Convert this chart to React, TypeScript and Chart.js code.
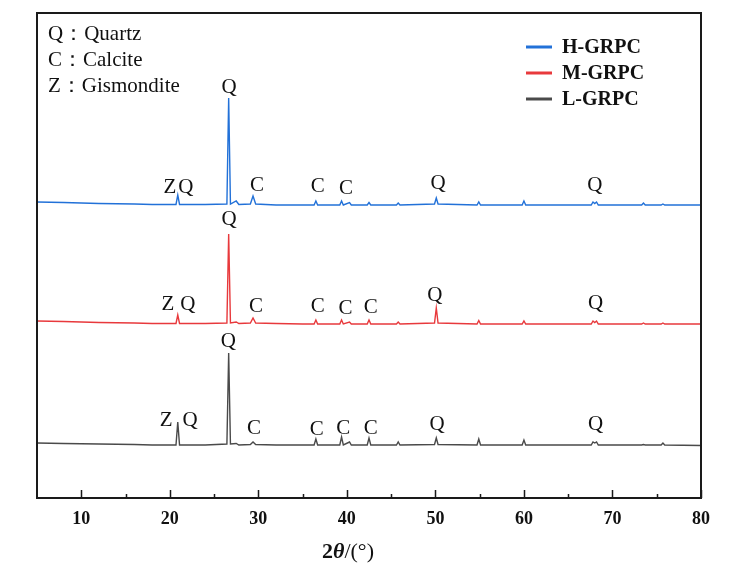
import React, { useEffect, useRef } from "react";
import { Chart, registerables } from "chart.js";

Chart.register(...registerables);

const twoTheta = [5, 8, 12, 16, 18, 20.7, 20.9, 21.1, 22, 24, 26.45, 26.65, 26.85, 27.5, 27.8, 29.1, 29.4, 29.7, 32, 35, 36.3, 36.5, 36.7, 38, 39.2, 39.4, 39.6, 40.3, 40.5, 42.3, 42.5, 42.7, 45.6, 45.8, 46.0, 49.9, 50.1, 50.3, 54.7, 54.9, 55.1, 59.8, 60.0, 60.2, 64, 67.6, 67.8, 68.0, 68.2, 68.4, 73.3, 73.5, 73.7, 75.5, 75.7, 75.9, 80];

const hGRPC = [296, 295.5, 294.5, 294, 293.5, 293.5, 303, 293.5, 293.5, 293.5, 294, 400, 294, 297, 293.5, 294, 302, 294, 293, 293, 293, 297, 293, 293, 293, 297, 293, 295.5, 293, 293, 295.5, 293, 293, 295, 293, 294, 300, 294, 293, 296, 293, 293, 297, 293, 293, 293, 296, 294.5, 296, 293, 293, 295, 293, 293, 294, 293, 293];

const mGRPC = [177, 176.5, 175.5, 175, 174.5, 174.5, 183, 174.5, 174.5, 174.5, 175, 264, 175, 176, 174.5, 175, 180, 175, 174.5, 174, 174, 178, 174, 174, 174, 178, 174, 176, 174, 174, 178, 174, 174, 176, 174, 175, 190, 175, 174, 177.5, 174, 174, 177, 174, 174, 174, 177, 175.5, 177, 174, 174, 175, 174, 174, 175, 174, 174];

const lGRPC = [55, 54.5, 54, 53.5, 53, 53, 76, 53, 53, 53, 54, 145, 54, 54.5, 53, 53.5, 56, 53.5, 53, 53, 53, 59, 53, 53, 53, 61, 53, 56, 53, 53, 60, 53, 53, 56, 53, 53.5, 60, 53.5, 53, 59, 53, 53, 58, 53, 53, 53, 56, 55, 56, 53, 53, 53.5, 53, 53, 55, 53, 52.5];

const seriesNames = ["H-GRPC", "M-GRPC", "L-GRPC"];
const seriesColors = ["#2271d8", "#e8393c", "#4a4a4a"];

const xTicks = [10, 20, 30, 40, 50, 60, 70, 80];
const xMinorTicks = [15, 25, 35, 45, 55, 65, 75];

const phaseKey = ["Q：Quartz", "C：Calcite", "Z：Gismondite"];

// peak labels: 2θ position, label height, text
const hLabelsX = [20.0, 21.8, 26.7, 29.85, 36.7, 39.9, 50.3, 68.0];
const hLabelsY = [311, 311, 411, 313, 312, 310, 315, 313];
const hLabelsT = ["Z", "Q", "Q", "C", "C", "C", "Q", "Q"];

const mLabelsX = [19.8, 22.05, 26.7, 29.75, 36.7, 39.85, 42.7, 49.95, 68.1];
const mLabelsY = [194, 194, 279, 192, 192, 190, 191, 203, 195];
const mLabelsT = ["Z", "Q", "Q", "C", "C", "C", "C", "Q", "Q"];

const lLabelsX = [19.6, 22.3, 26.6, 29.5, 36.6, 39.6, 42.7, 50.2, 68.1];
const lLabelsY = [78, 78, 157, 70, 69, 70, 70, 74, 74];
const lLabelsT = ["Z", "Q", "Q", "C", "C", "C", "C", "Q", "Q"];

const SERIF = "'Liberation Serif', 'Times New Roman', serif";

export default function App() {
  const ref = useRef<HTMLCanvasElement | null>(null);

  useEffect(() => {
    if (!ref.current) return;
    const mk = (ys: number[]) => twoTheta.map((x, i) => ({ x, y: ys[i] }));

    const overlay = {
      id: "overlay",
      afterDraw(chart: any) {
        const ctx = chart.ctx as CanvasRenderingContext2D;
        const ca = chart.chartArea;
        const xs = chart.scales.x;
        const ys = chart.scales.y;
        ctx.save();
        // frame
        ctx.strokeStyle = "#1a1a1a";
        ctx.lineWidth = 2;
        ctx.strokeRect(ca.left, ca.top, ca.right - ca.left, ca.bottom - ca.top);
        // inward ticks
        ctx.lineWidth = 1.5;
        ctx.beginPath();
        xTicks.forEach((v) => {
          const px = Math.round(xs.getPixelForValue(v)) + 0.5;
          ctx.moveTo(px, ca.bottom);
          ctx.lineTo(px, ca.bottom - 8);
        });
        xMinorTicks.forEach((v) => {
          const px = Math.round(xs.getPixelForValue(v)) + 0.5;
          ctx.moveTo(px, ca.bottom);
          ctx.lineTo(px, ca.bottom - 4);
        });
        ctx.stroke();

        // peak labels
        ctx.fillStyle = "#111";
        ctx.font = `21px ${SERIF}`;
        ctx.textAlign = "center";
        ctx.textBaseline = "middle";
        const drawLabels = (lx: number[], ly: number[], lt: string[]) => {
          lx.forEach((x, i) => {
            ctx.fillText(lt[i], xs.getPixelForValue(x), ys.getPixelForValue(ly[i]));
          });
        };
        drawLabels(hLabelsX, hLabelsY, hLabelsT);
        drawLabels(mLabelsX, mLabelsY, mLabelsT);
        drawLabels(lLabelsX, lLabelsY, lLabelsT);

        // phase key
        ctx.textAlign = "left";
        ctx.font = `21px ${SERIF}`;
        phaseKey.forEach((t, i) => {
          ctx.fillText(t, ca.left + 11, ca.top + 21 + i * 26);
        });

        // legend
        ctx.font = `bold 20px ${SERIF}`;
        seriesNames.forEach((n, i) => {
          const y = ca.top + 34 + i * 26;
          ctx.strokeStyle = seriesColors[i];
          ctx.lineWidth = 3;
          ctx.beginPath();
          ctx.moveTo(526, y);
          ctx.lineTo(552, y);
          ctx.stroke();
          ctx.fillStyle = "#111";
          ctx.fillText(n, 562, y + 1);
        });

        // axis title 2θ/(°)
        ctx.textBaseline = "alphabetic";
        const ty = 558;
        const parts: [string, string][] = [
          ["2", `bold 22px ${SERIF}`],
          ["θ", `italic bold 22px ${SERIF}`],
          ["/(°)", `22px ${SERIF}`],
        ];
        let total = 0;
        parts.forEach(([t, f]) => {
          ctx.font = f;
          total += ctx.measureText(t).width;
        });
        let tx = 348 - total / 2;
        ctx.fillStyle = "#111";
        parts.forEach(([t, f]) => {
          ctx.font = f;
          ctx.fillText(t, tx, ty);
          tx += ctx.measureText(t).width;
        });
        ctx.restore();
      },
    };

    const chart = new Chart(ref.current, {
      type: "line",
      data: {
        datasets: [
          { label: seriesNames[0], data: mk(hGRPC), borderColor: seriesColors[0], borderWidth: 1.4, pointRadius: 0, fill: false },
          { label: seriesNames[1], data: mk(mGRPC), borderColor: seriesColors[1], borderWidth: 1.4, pointRadius: 0, fill: false },
          { label: seriesNames[2], data: mk(lGRPC), borderColor: seriesColors[2], borderWidth: 1.4, pointRadius: 0, fill: false },
        ],
      },
      options: {
        responsive: false,
        animation: false,
        layout: { padding: { left: 37, right: 35, top: 13, bottom: 0 } },
        plugins: { legend: { display: false }, tooltip: { enabled: false } },
        scales: {
          x: {
            type: "linear",
            min: 5,
            max: 80,
            grid: { display: false, drawTicks: false },
            border: { display: false },
            afterBuildTicks: (scale: any) => {
              scale.ticks = xTicks.map((v) => ({ value: v }));
            },
            afterFit: (scale: any) => {
              scale.height = 76;
            },
            ticks: {
              padding: 11,
              color: "#111",
              maxRotation: 0,
              font: { family: SERIF, size: 18, weight: "bold" },
              callback: (v: any) => String(v),
            },
          },
          y: { display: false, min: 0, max: 485 },
        },
      } as any,
      plugins: [overlay],
    });
    return () => chart.destroy();
  }, []);

  return (
    <div style={{ position: "fixed", left: 0, top: 0, width: 736, height: 574, background: "#fff" }}>
      <canvas ref={ref} width={736} height={574} style={{ display: "block" }} />
    </div>
  );
}
